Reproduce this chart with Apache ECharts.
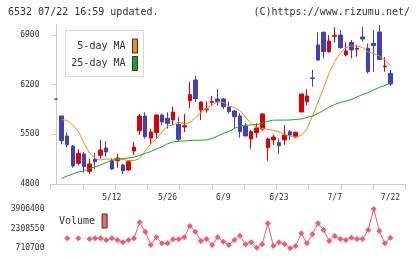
<!DOCTYPE html>
<html><head><meta charset="utf-8">
<script src="https://cdn.jsdelivr.net/npm/echarts@6/dist/echarts.min.js"></script>
<style>html,body{margin:0;padding:0;background:#fff}#c{width:420px;height:259px}</style>
</head><body><div id="c"></div>
<script>
const dates = ['4/23','4/24','4/25','4/28','4/30','5/1','5/2','5/7','5/8','5/9',
  '5/12','5/13','5/14','5/15','5/16','5/19','5/20','5/21','5/22','5/23',
  '5/26','5/27','5/28','5/29','5/30','6/2','6/3','6/4','6/5','6/6',
  '6/9','6/10','6/11','6/12','6/13','6/16','6/17','6/18','6/19','6/20',
  '6/23','6/24','6/25','6/26','6/27','6/30','7/1','7/2','7/3','7/4',
  '7/7','7/8','7/9','7/10','7/11','7/14','7/15','7/16','7/17','7/18','7/22'];
const tickLabels = ['5/12','5/26','6/9','6/23','7/7','7/22'];
const openP = [5995,5758,5476,5335,5092,5223,4979,5152,5204,5307,
  5128,5128,5068,4997,5265,5551,5758,5448,5523,5772,
  5726,5702,5641,5603,5974,6265,5843,5845,5950,5998,
  5998,5885,5829,5758,5617,5434,5523,5575,5311,5420,
  5382,5420,5537,5462,5814,5960,6295,6759,6937,6664,
  6880,6899,6618,6794,6700,6871,6712,6782,6942,6450,6360];
const closeP = [5995,5410,5354,5054,5233,5044,5082,5114,5279,5251,
  5011,5166,4987,5114,5321,5758,5466,5533,5772,5674,
  5655,5814,5430,5621,6058,6002,5955,5858,5963,5960,
  5889,5819,5748,5537,5476,5537,5589,5786,5434,5462,
  5340,5490,5490,5528,6068,6040,6285,6547,6664,6815,
  6895,6720,6674,6688,6712,6843,6382,6749,6557,6462,6209];
const lowP = [5995,5359,5317,5030,5063,4959,4941,5007,5156,5185,
  4997,5030,4941,4983,5209,5490,5438,5364,5448,5627,
  5579,5631,5406,5533,5871,5955,5702,5805,5899,5903,
  5857,5796,5585,5452,5476,5297,5452,5551,5128,5350,
  5227,5350,5420,5452,5814,5913,6171,6533,6571,6650,
  6794,6706,6599,6571,6594,6805,6357,6382,6547,6382,6181];
const highP = [5995,5758,5523,5350,5289,5251,5156,5241,5420,5406,
  5162,5223,5082,5138,5392,5786,5810,5579,5782,5790,
  5810,5889,5748,5786,6237,6322,5965,5965,6040,6139,
  6012,5964,5843,5796,5655,5561,5655,5796,5452,5490,
  5444,5631,5561,5537,6068,6134,6406,6937,6950,6899,
  7008,6970,6794,6829,6763,7012,6782,6970,7040,6585,6406];
const ma5 = [null,5709,5695,5631,5540,5378,5237,5159,5138,5152,
  5152,5152,5145,5131,5131,5159,5265,5371,5434,5533,
  5617,5631,5674,5645,5667,5730,5807,5864,5913,5960,
  5948,5899,5878,5836,5744,5652,5603,5582,5571,5554,
  5533,5497,5476,5462,5483,5575,5758,5955,6153,6364,
  6526,6646,6723,6744,6744,6723,6660,6639,6604,6547,6470];
const ma25 = [null,4879,4913,4941,4969,4983,5018,5040,5068,5103,
  5131,5152,5159,5166,5180,5202,5232,5258,5293,5324,
  5366,5392,5402,5406,5413,5416,5417,5420,5441,5476,
  5512,5540,5582,5617,5631,5631,5638,5659,5683,5700,
  5700,5700,5702,5709,5716,5737,5758,5793,5836,5885,
  5920,5948,5969,5991,6026,6061,6089,6124,6160,6188,6223];
const volume = [null,null,1524000,null,1524000,null,1466900,1524000,1524000,1385600,
  1524000,1385600,1198600,1385600,1524000,2824900,2060500,979000,1605200,1117300,
  1117300,1442500,1442500,1605200,2524100,2060500,1304300,1466900,979000,1605200,
  1247400,979000,1385600,1735300,1036000,1198600,751000,1036000,2743600,897700,
  1198600,1060400,710700,897700,1930400,1117300,1849100,2743600,2198800,1304300,
  1710900,1466900,1385600,1572600,1466900,1466900,2198800,3906400,2117500,1117300,1572600];
const priceTicks = [4800,5500,6200,6900];
const volTicks = [710700,2308550,3906400];

const FONT = 'DejaVu Sans Mono';
const X_MIN = -1, X_MAX = 62.7;
const xTickVals = [];
for (let k = 0; k <= 11; k++) xTickVals.push(X_MIN + k * (X_MAX - X_MIN) / 11);
const labelIdx = tickLabels.map(t => dates.indexOf(t));

const chart = echarts.init(document.getElementById('c'), null, {renderer: 'canvas'});
const axisGray = '#cccccc';
chart.setOption({
  animation: false,
  backgroundColor: '#ffffff',
  graphic: [
    {type: 'text', left: 8, top: 7, style: {text: '6532 07/22 16:59 updated.', font: '10px "' + FONT + '"', fill: '#333'}},
    {type: 'text', right: 10, top: 7, style: {text: '(C)https://www.rizumu.net/', font: '10px "' + FONT + '"', fill: '#333'}},
    {type: 'rect', shape: {x: 65.5, y: 30.5, width: 78, height: 46}, style: {fill: '#fff', stroke: '#d8d8d8', lineWidth: 1}, z: 5}
  ],
  legend: [
    {data: ['5-day MA'], right: 282, top: 38.5, padding: 0, align: 'right', icon: 'rect',
     itemWidth: 5, itemHeight: 14, selectedMode: false, z: 10,
     itemStyle: {borderColor: '#333', borderWidth: 1},
     textStyle: {fontFamily: FONT, fontSize: 10, color: '#333', padding: [0, 2, 0, 0]}},
    {data: ['25-day MA'], right: 282, top: 56, padding: 0, align: 'right', icon: 'rect',
     itemWidth: 5, itemHeight: 14, selectedMode: false, z: 10,
     itemStyle: {borderColor: '#333', borderWidth: 1},
     textStyle: {fontFamily: FONT, fontSize: 10, color: '#333', padding: [0, 2, 0, 0]}},
    {data: ['Volume'], left: 59, top: 213.5, padding: 0, align: 'right', icon: 'rect',
     itemWidth: 5, itemHeight: 14, selectedMode: false,
     itemStyle: {borderColor: '#333', borderWidth: 1, color: '#ff6464'},
     textStyle: {fontFamily: FONT, fontSize: 10, color: '#333', padding: [0, 2, 0, 0]}}
  ],
  grid: [
    {left: 50.5, right: 14.5, top: 25, height: 159},
    {left: 50.5, right: 14.5, top: 209, height: 39.3}
  ],
  xAxis: [
    {type: 'value', gridIndex: 0, min: X_MIN, max: X_MAX,
     axisLine: {show: true, lineStyle: {color: axisGray}},
     axisTick: {show: true, length: 5, customValues: xTickVals, lineStyle: {color: axisGray}},
     axisLabel: {customValues: labelIdx, margin: 10, formatter: v => dates[Math.round(v)] || '',
       fontFamily: FONT, fontSize: 8, color: '#333'},
     splitLine: {show: false}},
    {type: 'value', gridIndex: 1, min: X_MIN, max: X_MAX, show: false, splitLine: {show: false}}
  ],
  yAxis: [
    {type: 'value', gridIndex: 0, min: 4800, max: 7040,
     axisLine: {show: true, lineStyle: {color: axisGray}},
     axisTick: {show: true, length: 5, customValues: priceTicks, lineStyle: {color: axisGray}},
     axisLabel: {customValues: priceTicks, margin: 11, formatter: v => String(Math.round(v)),
       fontFamily: FONT, fontSize: 8, color: '#333'},
     splitLine: {show: false}},
    {type: 'value', gridIndex: 1, min: 710700, max: 3906400,
     axisLine: {show: false}, axisTick: {show: false},
     axisLabel: {customValues: volTicks, margin: 6, formatter: v => String(Math.round(v)),
       fontFamily: FONT, fontSize: 8, color: '#333'},
     splitLine: {show: false}}
  ],
  series: [
    {name: 'price', type: 'candlestick', xAxisIndex: 0, yAxisIndex: 0, barWidth: 4,
     data: dates.map((d, i) => [i, openP[i], closeP[i], lowP[i], highP[i]]),
     itemStyle: {color: '#dd0000', color0: '#4040bb', borderColor: '#dd0000', borderColor0: '#4040bb',
       borderColorDoji: '#dd0000', borderWidth: 1}},
    {name: '5-day MA', type: 'line', xAxisIndex: 0, yAxisIndex: 0, color: '#f08c1e', showSymbol: false,
     lineStyle: {width: 1, color: '#f08c1e'}, data: ma5.map((v, i) => [i, v]), z: 3},
    {name: '25-day MA', type: 'line', xAxisIndex: 0, yAxisIndex: 0, color: '#14a820', showSymbol: false,
     lineStyle: {width: 1, color: '#14a820'}, data: ma25.map((v, i) => [i, v]), z: 3},
    {name: 'Volume', type: 'line', xAxisIndex: 1, yAxisIndex: 1, color: '#f85868', symbol: 'diamond', symbolSize: 6,
     connectNulls: false, lineStyle: {width: 1, color: '#f85868'}, itemStyle: {color: '#f85868'},
     data: volume.map((v, i) => [i, v])}
  ]
});
</script></body></html>
